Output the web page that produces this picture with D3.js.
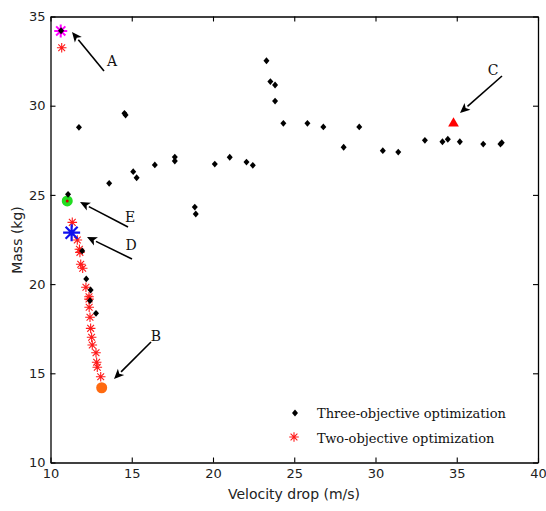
<!DOCTYPE html>
<html>
<head>
<meta charset="utf-8">
<script src="https://cdn.jsdelivr.net/npm/d3@7"></script>
<style>
  html, body { margin: 0; padding: 0; background: #fff; }
  svg { display: block; }
</style>
</head>
<body>
<svg id="chart" width="546" height="511"></svg>
<script>
// Three-objective Pareto set: velocity drop (m/s), mass (kg)
const threeObjVelocity = [10.65, 11.75, 14.55, 14.62, 13.61, 15.09, 15.30, 16.42, 17.65, 17.65,
  18.88, 18.94, 20.11, 21.03, 22.06, 22.45, 23.29, 23.53, 23.82, 23.82, 24.33, 25.81, 26.79,
  28.04, 29.00, 30.45, 31.40, 33.04, 34.12, 34.45, 35.19, 36.63, 37.69, 37.77,
  11.08, 11.95, 12.20, 12.47, 12.43, 12.80];
const threeObjMass = [34.20, 28.79, 29.57, 29.48, 25.65, 26.30, 25.96, 26.68, 27.12, 26.90,
  24.32, 23.93, 26.73, 27.11, 26.84, 26.66, 32.52, 31.35, 31.16, 30.26, 29.01, 29.01, 28.81,
  27.67, 28.81, 27.48, 27.40, 28.06, 27.98, 28.12, 27.98, 27.85, 27.85, 27.93,
  25.03, 21.86, 20.29, 19.67, 19.07, 18.36];

// Two-objective Pareto front
const twoObjVelocity = [10.69, 11.34, 11.65, 11.78, 11.81, 11.86, 11.98, 12.18, 12.37, 12.37,
  12.38, 12.43, 12.47, 12.53, 12.57, 12.80, 12.84, 12.88, 13.09];
const twoObjMass = [33.25, 23.46, 22.47, 21.95, 21.78, 21.11, 20.89, 19.82, 19.29, 19.16,
  18.70, 18.14, 17.52, 17.02, 16.59, 16.15, 15.62, 15.34, 14.81];

// Highlighted solutions A–E
const pointLabels = ["A", "B", "C", "D", "E"];
const pointVelocity = [10.63, 13.15, 34.80, 11.30, 11.03];
const pointMass = [34.19, 14.19, 29.01, 22.88, 24.66];

const xTicks = [10, 15, 20, 25, 30, 35, 40];
const yTicks = [10, 15, 20, 25, 30, 35];
const legendLabels = ["Three-objective optimization", "Two-objective optimization"];

const svg = d3.select("#chart");
const x = d3.scaleLinear().domain([10, 40]).range([50.5, 538]);
const y = d3.scaleLinear().domain([10, 35]).range([462.5, 16.5]);

const tickFont = "'DejaVu Sans', sans-serif";
const serifFont = "'DejaVu Serif', serif";

// Frame with inward ticks on all four sides
function styleAxis(g) {
  g.selectAll("path").attr("stroke", "#000").attr("stroke-width", 1.3);
  g.selectAll("line").attr("stroke", "#000").attr("stroke-width", 1.1);
  g.selectAll("text").attr("fill", "#222").style("font-family", tickFont).style("font-size", "13px");
}
svg.append("g").attr("transform", `translate(0,${y(10)})`)
  .call(d3.axisBottom(x).tickValues(xTicks).tickSizeInner(-5).tickSizeOuter(0).tickPadding(6).tickFormat(d3.format("d")))
  .call(styleAxis);
svg.append("g").attr("transform", `translate(0,${y(35)})`)
  .call(d3.axisTop(x).tickValues(xTicks).tickSizeInner(-5).tickSizeOuter(0).tickFormat(""))
  .call(styleAxis);
svg.append("g").attr("transform", `translate(${x(10)},0)`)
  .call(d3.axisLeft(y).tickValues(yTicks).tickSizeInner(-5).tickSizeOuter(0).tickPadding(5).tickFormat(d3.format("d")))
  .call(styleAxis);
svg.append("g").attr("transform", `translate(${x(40)},0)`)
  .call(d3.axisRight(y).tickValues(yTicks).tickSizeInner(-5).tickSizeOuter(0).tickFormat(""))
  .call(styleAxis);

// Axis titles
svg.append("text").attr("x", 294).attr("y", 499).attr("text-anchor", "middle")
  .style("font-family", tickFont).style("font-size", "14px").attr("fill", "#222")
  .text("Velocity drop (m/s)");
svg.append("text").attr("transform", "translate(22,240) rotate(-90)").attr("text-anchor", "middle")
  .style("font-family", tickFont).style("font-size", "14px").attr("fill", "#222")
  .text("Mass (kg)");

// Asterisk marker path (MATLAB-style '*')
function asterisk(r) {
  const k = r * 0.7071;
  return `M${-r},0L${r},0M0,${-r}L0,${r}M${-k},${-k}L${k},${k}M${-k},${k}L${k},${-k}`;
}
// Compact diamond marker
const diamond = "M0,-3.4L3,0L0,3.4L-3,0Z";

const threeObj = threeObjVelocity.map((v, i) => ({ v, m: threeObjMass[i] }));
const twoObj = twoObjVelocity.map((v, i) => ({ v, m: twoObjMass[i] }));
const special = pointLabels.map((l, i) => ({ l, v: pointVelocity[i], m: pointMass[i] }));
const sp = Object.fromEntries(special.map(d => [d.l, d]));

// Highlighted markers drawn beneath the series
svg.append("path").attr("d", asterisk(6.5))
  .attr("transform", `translate(${x(sp.A.v)},${y(sp.A.m)})`)
  .attr("stroke", "#ff00ff").attr("stroke-width", 2).attr("fill", "none");
svg.append("circle").attr("cx", x(sp.E.v)).attr("cy", y(sp.E.m)).attr("r", 5.5).attr("fill", "#22dd22");
svg.append("circle").attr("cx", x(sp.B.v)).attr("cy", y(sp.B.m)).attr("r", 5.5).attr("fill", "#ff6a10");
svg.append("path").attr("d", d3.symbol(d3.symbolTriangle, 50)())
  .attr("transform", `translate(${x(sp.C.v)},${y(sp.C.m)})`).attr("fill", "#ff0000");

// Two-objective series: red asterisks
svg.append("g").selectAll("path").data(twoObj).join("path")
  .attr("d", asterisk(4.8))
  .attr("transform", d => `translate(${x(d.v)},${y(d.m)})`)
  .attr("stroke", "#ff1a1a").attr("stroke-width", 1.1).attr("fill", "none");

// Three-objective series: black diamonds
svg.append("g").selectAll("path").data(threeObj).join("path")
  .attr("d", diamond)
  .attr("transform", d => `translate(${x(d.v)},${y(d.m)})`)
  .attr("fill", "#000");

svg.append("circle").attr("cx", x(sp.E.v)).attr("cy", y(sp.E.m)).attr("r", 1.5).attr("fill", "#c00");
svg.append("path").attr("d", asterisk(8.5))
  .attr("transform", `translate(${x(sp.D.v)},${y(sp.D.m)})`)
  .attr("stroke", "#1010ee").attr("stroke-width", 2.2).attr("fill", "none");

// Annotation arrows with letter labels
const arrows = [
  { l: "A", from: [104, 71], to: [72, 32], tx: 112, ty: 66 },
  { l: "E", from: [128, 227], to: [80, 202], tx: 130, ty: 222 },
  { l: "D", from: [132, 259], to: [87, 237], tx: 131, ty: 250 },
  { l: "B", from: [151, 342], to: [114, 379], tx: 156, ty: 341 },
  { l: "C", from: [502, 76], to: [460, 113], tx: 493, ty: 75 }
];
const ag = svg.append("g");
arrows.forEach(a => {
  const [x1, y1] = a.from, [x2, y2] = a.to;
  const ang = Math.atan2(y2 - y1, x2 - x1);
  const hl = 10, hw = 4.5;
  const bx = x2 - hl * Math.cos(ang), by = y2 - hl * Math.sin(ang);
  ag.append("line").attr("x1", x1).attr("y1", y1).attr("x2", bx).attr("y2", by)
    .attr("stroke", "#000").attr("stroke-width", 1.6);
  const px = -Math.sin(ang) * hw, py = Math.cos(ang) * hw;
  const nx = x2 - hl * 0.75 * Math.cos(ang), ny = y2 - hl * 0.75 * Math.sin(ang);
  ag.append("path")
    .attr("d", `M${x2},${y2}L${bx + px},${by + py}L${nx},${ny}L${bx - px},${by - py}Z`)
    .attr("fill", "#000");
  ag.append("text").attr("x", a.tx).attr("y", a.ty).attr("text-anchor", "middle")
    .style("font-family", serifFont).style("font-size", "14px").attr("fill", "#111")
    .text(a.l);
});

// Legend
const lg = svg.append("g");
lg.append("path").attr("d", diamond).attr("transform", "translate(295,413)").attr("fill", "#000");
lg.append("path").attr("d", asterisk(4.8)).attr("transform", "translate(294,437)")
  .attr("stroke", "#ff1a1a").attr("stroke-width", 1.1).attr("fill", "none");
legendLabels.forEach((t, i) => {
  lg.append("text").attr("x", 317).attr("y", 418 + i * 24.5)
    .style("font-family", serifFont).style("font-size", "13px").attr("fill", "#111")
    .text(t);
});
</script>
</body>
</html>
